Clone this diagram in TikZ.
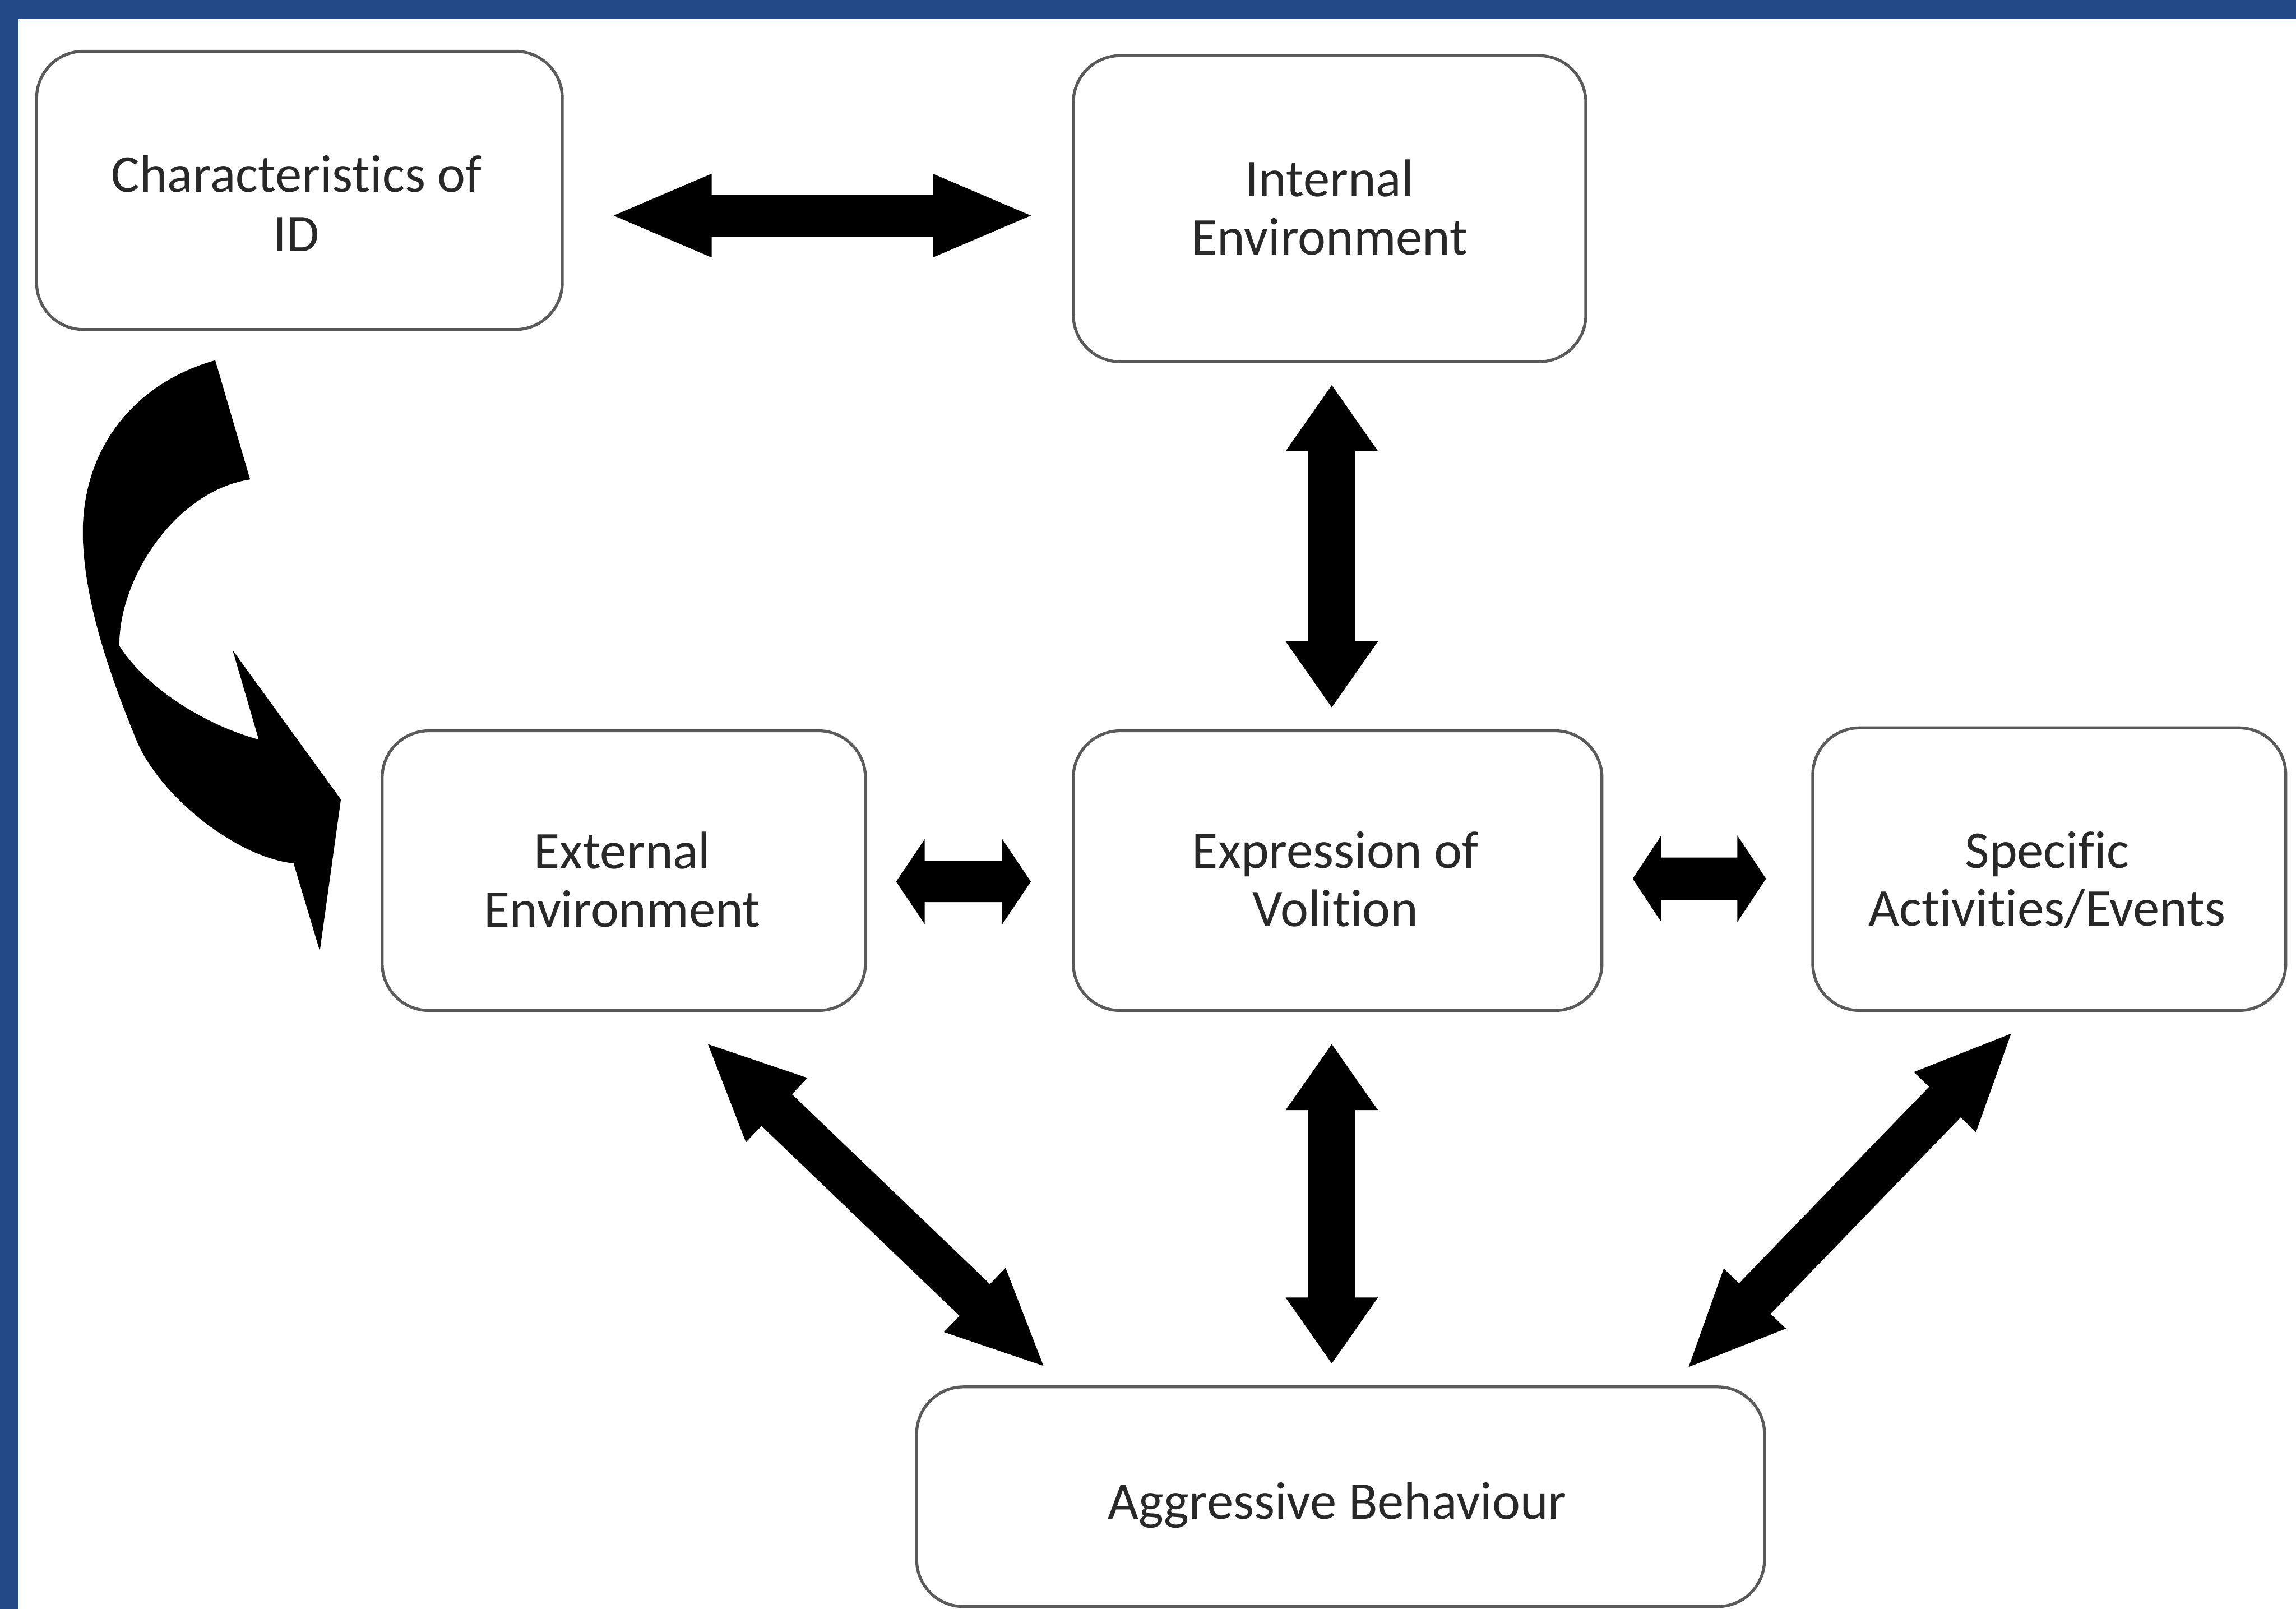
\documentclass[tikz,border=0pt]{standalone}
\usepackage{fontspec}
\setmainfont{Carlito}[Ligatures={NoCommon}]
\usetikzlibrary{calc}
\definecolor{bandblue}{RGB}{36,73,135}
\definecolor{boxline}{RGB}{90,90,90}
\definecolor{txtcol}{RGB}{40,40,40}
\tikzset{
  box/.style={draw=boxline, line width=2pt, rounded corners=32pt, fill=white, inner sep=0pt},
  txt/.style={text=txtcol, font=\fontsize{36.2}{40}\selectfont, inner sep=0pt, anchor=base},
  blk/.style={fill=black},
}
% #1 start, #2 end, #3 shaft half width, #4 head half width, #5 head length
\newcommand{\dblarrow}[5]{%
  \path ($(#1)!#5!(#2)$) coordinate (dbA) ($(#2)!#5!(#1)$) coordinate (dbB);
  \fill[blk] (#1) -- ($(dbA)!#4!90:(#2)$) -- ($(dbA)!#3!90:(#2)$)
    -- ($(dbB)!#3!90:(#2)$) -- ($(dbB)!#4!90:(#2)$) -- (#2)
    -- ($(dbB)!#4!-90:(#2)$) -- ($(dbB)!#3!-90:(#2)$)
    -- ($(dbA)!#3!-90:(#2)$) -- ($(dbA)!#4!-90:(#2)$) -- cycle;}
\begin{document}
\begin{tikzpicture}[x=1pt,y=-1pt]
\useasboundingbox (0,0) rectangle (1568,1098.6);
\fill[white] (0,0) rectangle (1568,1098.6);
\fill[bandblue] (0,0) rectangle (1568,13);
\fill[bandblue] (0,0) rectangle (12.5,1098.6);

% boxes
\node[box, minimum width=359pt, minimum height=190pt] (char) at (204.5,130) {};
\node[box, minimum width=350pt, minimum height=209pt] (internal) at (908,142.5) {};
\node[box, minimum width=330pt, minimum height=191pt] (external) at (426,594.5) {};
\node[box, minimum width=361pt, minimum height=191pt] (expression) at (913.5,594.5) {};
\node[box, minimum width=323pt, minimum height=193pt] (specific) at (1399.5,593.5) {};
\node[box, minimum width=579pt, minimum height=150pt] (aggressive) at (915.5,1022) {};

% texts
\node[txt] (charT1) at (202.5,131) {Characteristics of};
\node[txt] (charT2) at (202.5,171.5) {ID};
\node[txt] (internalT1) at (908,134) {Internal};
\node[txt] (internalT2) at (908,174) {Environment};
\node[txt] (externalT1) at (425,593) {External};
\node[txt] (externalT2) at (425,633) {Environment};
\node[txt] (expressionT1) at (912,592.7) {Expression of};
\node[txt] (expressionT2) at (912,632.6) {Volition};
\node[txt] (specificT1) at (1398,592.6) {Specific};
\node[txt] (specificT2) at (1398,632.3) {Activities/Events};
\node[txt] (aggressiveT) at (913.3,1037.3) {Aggressive Behaviour};

% arrow end points
\coordinate (ciL) at (419,147.2);   \coordinate (ciR) at (704,147.2);
\coordinate (ieT) at (909.5,263);   \coordinate (ieB) at (909.5,483);
\coordinate (xeL) at (612,602);     \coordinate (xeR) at (704,602);
\coordinate (esL) at (1115,600);    \coordinate (esR) at (1206,600);
\coordinate (eaT) at (909.5,713);   \coordinate (eaB) at (909.5,931);
\coordinate (xaT) at (483.5,713);   \coordinate (xaB) at (712.6,932.6);
\coordinate (saT) at (1373.4,705.8);\coordinate (saB) at (1153.2,933.4);

\dblarrow{ciL}{ciR}{14.3pt}{28.6pt}{67pt}
\dblarrow{ieT}{ieB}{16pt}{31.5pt}{45pt}
\dblarrow{xeL}{xeR}{14pt}{29pt}{19.5pt}
\dblarrow{esL}{esR}{14.5pt}{29.5pt}{19.5pt}
\dblarrow{eaT}{eaB}{16pt}{31.5pt}{45pt}
\dblarrow{xaT}{xaB}{15pt}{30.4pt}{65pt}
\dblarrow{saT}{saB}{15pt}{29.5pt}{65pt}

% curved arrow from Characteristics of ID to External Environment
\coordinate (cvTail) at (147,246);
\coordinate (cvTip) at (232.8,545.9);
\fill[blk] (cvTail) .. controls (90,262) and (52,310) .. (57,375)
  .. controls (60,420) and (78,468) .. (93,505)
  .. controls (108,542) and (160,585) .. (200.5,589.5)
  -- (218.4,649.3) -- (cvTip) -- (158.9,444) -- (176.7,505)
  .. controls (140,495) and (100,470) .. (81.5,441)
  .. controls (81,395) and (120,335) .. (170.8,327.4)
  -- cycle;
\end{tikzpicture}
\end{document}
